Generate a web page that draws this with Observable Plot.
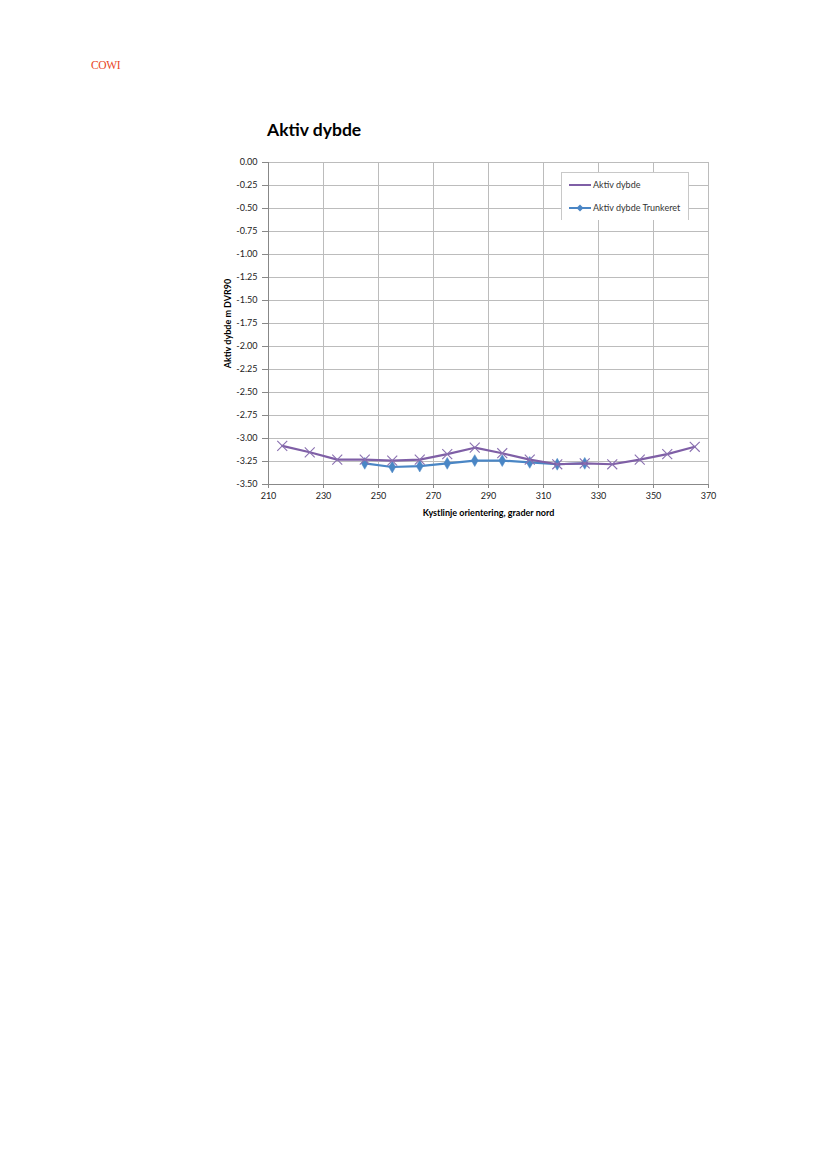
<!DOCTYPE html>
<html>
<head>
<meta charset="utf-8">
<script src="https://cdn.jsdelivr.net/npm/d3@7"></script>
<script src="https://cdn.jsdelivr.net/npm/@observablehq/plot@0.6"></script>
<style>
  html, body { margin: 0; padding: 0; background: #fff; }
  #page { position: relative; width: 827px; height: 1169px; overflow: hidden; }
  #cowi { position: absolute; left: 91px; top: 59px; font-family: "Liberation Serif", serif; font-size: 11.5px; color: #e8461e; letter-spacing: -0.4px; }
  #title { position: absolute; left: 267px; top: 119px; font-family: Lato, "Open Sans", sans-serif; font-weight: bold; font-size: 17.5px; color: #000; }
  #chart { position: absolute; left: 0; top: 0; }
  #legend { position: absolute; left: 561px; top: 172px; width: 126px; height: 47px; background: #fff; border: 1px solid #c8c8c8; border-bottom: none; font-family: Lato, "Open Sans", sans-serif; font-size: 9px; color: #333; }
  .li { position: absolute; left: 6px; display: flex; align-items: center; white-space: nowrap; }
  .li svg { margin-right: 1px; }
</style>
</head>
<body>
<div id="page">
  <div id="chart"></div>
  <div id="cowi">COWI</div>
  <div id="title">Aktiv dybde</div>
  <div id="legend"></div>
</div>
<script>
const angles = [215, 225, 235, 245, 255, 265, 275, 285, 295, 305, 315, 325, 335, 345, 355, 365];
const aktivDybde = [-3.08, -3.15, -3.23, -3.23, -3.24, -3.23, -3.17, -3.10, -3.16, -3.23, -3.28, -3.27, -3.28, -3.23, -3.17, -3.09];
const truncAngles = [245, 255, 265, 275, 285, 295, 305, 315, 325];
const aktivTrunkeret = [-3.27, -3.31, -3.30, -3.27, -3.24, -3.24, -3.26, -3.28, -3.27];
const xTicks = [210, 230, 250, 270, 290, 310, 330, 350, 370];
const yTicks = [0, -0.25, -0.5, -0.75, -1, -1.25, -1.5, -1.75, -2, -2.25, -2.5, -2.75, -3, -3.25, -3.5];
const seriesNames = ["Aktiv dybde", "Aktiv dybde Trunkeret"];
const colors = ["#7f5fa6", "#4a86c5"];

const main = angles.map((a, i) => ({x: a, y: aktivDybde[i]}));
const trunc = truncAngles.map((a, i) => ({x: a, y: aktivTrunkeret[i]}));

const chart = Plot.plot({
  width: 827,
  height: 540,
  marginLeft: 268,
  marginRight: 119,
  marginTop: 162,
  marginBottom: 56,
  style: {fontFamily: "Lato, 'Open Sans', sans-serif", fontSize: "9px", color: "#222", background: "transparent"},
  x: {domain: [210, 370]},
  y: {domain: [-3.5, 0]},
  marks: [
    Plot.gridX(xTicks, {stroke: "#bcbcbc", strokeOpacity: 1, strokeWidth: 1}),
    Plot.gridY(yTicks, {stroke: "#bcbcbc", strokeOpacity: 1, strokeWidth: 1}),
    Plot.axisX({ticks: xTicks, tickSize: 4, tickPadding: 4, stroke: "#888", label: "Kystlinje orientering, grader nord", labelAnchor: "center", labelOffset: 31, labelArrow: "none"}),
    Plot.axisY({ticks: yTicks, tickFormat: d => d.toFixed(2), tickSize: 6, tickPadding: 5, stroke: "#888", label: "Aktiv dybde m DVR90", labelAnchor: "center", labelOffset: 44, labelArrow: "none"}),
    Plot.ruleX([210], {stroke: "#888"}),
    Plot.ruleY([-3.5], {stroke: "#888"}),
    Plot.line(trunc, {x: "x", y: "y", stroke: colors[1], strokeWidth: 2.2}),
    Plot.dot(trunc, {x: "x", y: "y", symbol: "diamond", fill: colors[1], stroke: colors[1], strokeWidth: 0.5, r: 3.6}),
    Plot.line(main, {x: "x", y: "y", stroke: colors[0], strokeWidth: 2.2}),
    Plot.dot(main, {x: "x", y: "y", symbol: "times", stroke: "#8a70b0", strokeWidth: 1.1, r: 4.6})
  ]
});
chart.querySelectorAll("[aria-label='x-axis label'] text, [aria-label='y-axis label'] text").forEach(t => {
  t.setAttribute("font-weight", "bold");
  t.setAttribute("fill", "#000");
});
document.getElementById("chart").appendChild(chart);

// legend
const legend = document.getElementById("legend");
seriesNames.forEach((name, i) => {
  const item = document.createElement("div");
  item.className = "li";
  item.style.top = (i === 0 ? 6 : 29) + "px";
  const sw = i === 0
    ? `<svg width="24" height="10"><line x1="1" y1="5" x2="23" y2="5" stroke="${colors[0]}" stroke-width="2"/></svg>`
    : `<svg width="24" height="10"><line x1="1" y1="5" x2="23" y2="5" stroke="${colors[1]}" stroke-width="2"/><path d="M12,1.5 L15.5,5 L12,8.5 L8.5,5 Z" fill="${colors[1]}"/></svg>`;
  item.innerHTML = sw + `<span>${name}</span>`;
  legend.appendChild(item);
});
</script>
</body>
</html>
